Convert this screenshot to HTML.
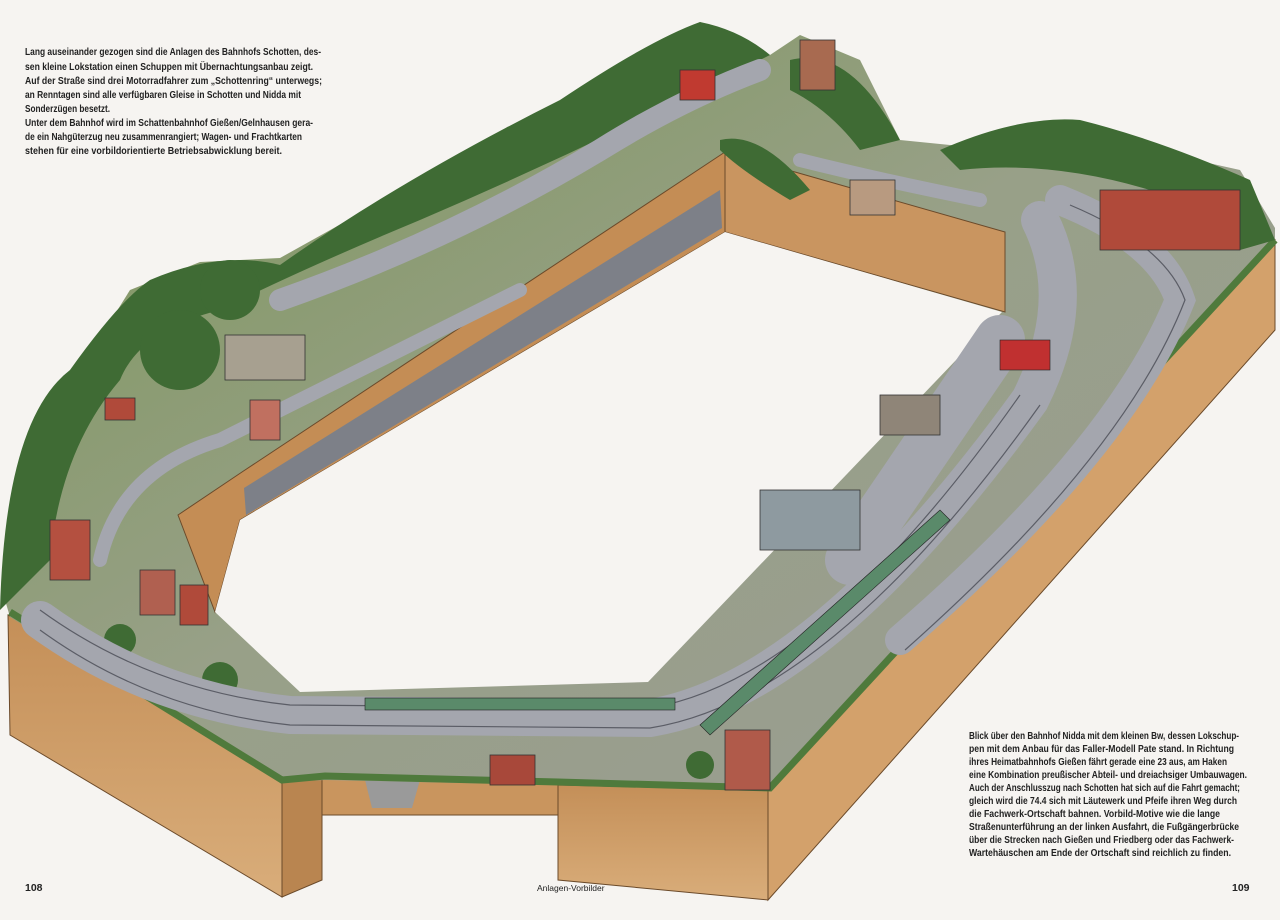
<!DOCTYPE html>
<html><head><meta charset="utf-8"><style>
html,body{margin:0;padding:0;background:#f6f4f1;}
svg{display:block}
text{font-family:"Liberation Sans",sans-serif;font-weight:bold;fill:#222}
</style></head><body>
<svg width="1280" height="920" viewBox="0 0 1280 920" xmlns="http://www.w3.org/2000/svg">
<rect width="1280" height="920" fill="#f6f4f1"/>
<defs>
<linearGradient id="wall" x1="0" y1="0" x2="0" y2="1"><stop offset="0" stop-color="#c48f58"/><stop offset="1" stop-color="#d9ad7a"/></linearGradient>
<linearGradient id="top" x1="0" y1="0" x2="1" y2="1"><stop offset="0" stop-color="#7a9656"/><stop offset="0.5" stop-color="#98a088"/><stop offset="1" stop-color="#9a9c94"/></linearGradient>
</defs>
<polygon points="8,615 282,782 282,897 10,735" fill="url(#wall)" stroke="#6b4a2a" stroke-width="1"/>
<polygon points="282,782 322,778 322,880 282,897" fill="#b98550" stroke="#6b4a2a" stroke-width="1"/>
<polygon points="322,778 558,782 558,815 322,815" fill="#c9955e" stroke="#6b4a2a" stroke-width="1"/>
<polygon points="365,780 420,780 412,808 372,808" fill="#9a9a9a"/>
<polygon points="558,785 768,790 768,900 558,880" fill="url(#wall)" stroke="#6b4a2a" stroke-width="1"/>
<polygon points="768,790 1275,240 1275,330 768,900" fill="#d3a16b" stroke="#6b4a2a" stroke-width="1"/>
<polygon points="5,600 18,470 80,370 130,290 200,262 280,258 420,180 560,108 700,22 770,55 800,35 860,60 900,140 1000,150 1080,125 1150,150 1240,170 1275,228 1275,242 770,790 558,785 325,780 282,782 10,617" fill="url(#top)"/>
<!-- edge greenery -->
<path d="M10,612 L282,780 L325,776 L558,782 L770,788 L1275,240" fill="none" stroke="#4f7a3c" stroke-width="7"/>
<polygon points="725,152 1005,232 1005,312 725,232" fill="#c99560" stroke="#6b4a2a"/>
<polygon points="178,515 242,472 725,152 725,232 240,520 215,612" fill="#c48d55" stroke="#6b4a2a"/>
<polygon points="244,488 720,190 722,228 246,515" fill="#7d8088"/>
<polygon points="240,520 725,232 1002,312 648,682 300,692 215,612" fill="#f6f4f1"/>
<g fill="#3f6b34">
<path d="M0,610 Q5,420 70,370 Q120,300 150,280 Q220,250 280,265 Q400,180 560,100 Q650,40 700,22 Q740,30 770,55 L700,90 Q560,160 420,220 Q300,270 220,310 Q140,330 120,380 Q60,450 50,560 Z"/>
<path d="M790,60 Q850,45 900,140 L860,150 Q830,110 790,90Z"/>
<path d="M720,140 Q760,130 810,190 L790,200 Q740,170 720,150Z"/>
<path d="M940,150 Q1020,115 1080,120 Q1160,140 1250,180 L1275,240 L1240,250 Q1200,210 1150,190 Q1050,160 960,170Z"/>
<circle cx="180" cy="350" r="40"/><circle cx="230" cy="290" r="30"/>
<circle cx="220" cy="680" r="18"/><circle cx="120" cy="640" r="16"/><circle cx="700" cy="765" r="14"/>
</g>
<g fill="none" stroke="#a4a6ae" stroke-linecap="round">
<path d="M40,620 Q150,700 290,715 L650,718 Q820,690 1030,400 Q1080,300 1040,220" stroke-width="38"/>
<path d="M280,300 Q450,240 600,150 Q680,100 760,70" stroke-width="22"/>
<path d="M100,560 Q120,470 220,440 Q380,360 520,290" stroke-width="14"/>
<path d="M1060,200 Q1160,240 1180,300 Q1120,450 900,640" stroke-width="30"/>
<path d="M800,160 Q880,180 980,200" stroke-width="14"/>
<path d="M850,560 L1000,340" stroke-width="50"/>
</g>
<g fill="none" stroke="#5b5d66" stroke-width="1.2">
<path d="M40,610 Q150,690 290,705 L650,708 Q820,680 1020,395"/>
<path d="M40,630 Q150,710 290,725 L650,728 Q830,700 1040,405"/>
<path d="M1070,205 Q1165,245 1185,300 Q1125,455 905,650"/>
</g>
<g stroke="#333" stroke-width="0.8">
<rect x="760" y="490" width="100" height="60" fill="#8e9aa0"/>
<rect x="880" y="395" width="60" height="40" fill="#8f8578"/>
<rect x="1100" y="190" width="140" height="60" fill="#b04a3a"/>
<rect x="850" y="180" width="45" height="35" fill="#b89a80"/>
<rect x="225" y="335" width="80" height="45" fill="#a7a090"/>
<rect x="725" y="730" width="45" height="60" fill="#b05a4a"/>
<rect x="490" y="755" width="45" height="30" fill="#a8483a"/>
<rect x="50" y="520" width="40" height="60" fill="#b45040"/>
<rect x="140" y="570" width="35" height="45" fill="#b06050"/>
<rect x="250" y="400" width="30" height="40" fill="#c07060"/>
<rect x="680" y="70" width="35" height="30" fill="#c03a30"/>
<rect x="800" y="40" width="35" height="50" fill="#a86a50"/>
<rect x="105" y="398" width="30" height="22" fill="#b04a3a"/>
<rect x="180" y="585" width="28" height="40" fill="#b04a3a"/>
</g>
<g fill="#5a8a6a" stroke="#222" stroke-width="0.6">
<rect x="365" y="698" width="310" height="12"/>
<rect x="1000" y="340" width="50" height="30" fill="#c03030"/>
<path d="M700,725 L940,510 L950,520 L710,735Z"/>
</g>
<g font-size="10.5">
<text x="25" y="55" textLength="296" lengthAdjust="spacingAndGlyphs">Lang auseinander gezogen sind die Anlagen des Bahnhofs Schotten, des-</text>
<text x="25" y="70" textLength="288" lengthAdjust="spacingAndGlyphs">sen kleine Lokstation einen Schuppen mit Übernachtungsanbau zeigt.</text>
<text x="25" y="84" textLength="297" lengthAdjust="spacingAndGlyphs">Auf der Straße sind drei Motorradfahrer zum „Schottenring“ unterwegs;</text>
<text x="25" y="98" textLength="276" lengthAdjust="spacingAndGlyphs">an Renntagen sind alle verfügbaren Gleise in Schotten und Nidda mit</text>
<text x="25" y="112" textLength="85" lengthAdjust="spacingAndGlyphs">Sonderzügen besetzt.</text>
<text x="25" y="126" textLength="288" lengthAdjust="spacingAndGlyphs">Unter dem Bahnhof wird im Schattenbahnhof Gießen/Gelnhausen gera-</text>
<text x="25" y="140" textLength="277" lengthAdjust="spacingAndGlyphs">de ein Nahgüterzug neu zusammenrangiert; Wagen- und Frachtkarten</text>
<text x="25" y="154" textLength="257" lengthAdjust="spacingAndGlyphs">stehen für eine vorbildorientierte Betriebsabwicklung bereit.</text>
</g>
<g font-size="10.5">
<text x="969" y="739" textLength="270" lengthAdjust="spacingAndGlyphs">Blick über den Bahnhof Nidda mit dem kleinen Bw, dessen Lokschup-</text>
<text x="969" y="752" textLength="265" lengthAdjust="spacingAndGlyphs">pen mit dem Anbau für das Faller-Modell Pate stand. In Richtung</text>
<text x="969" y="765" textLength="258" lengthAdjust="spacingAndGlyphs">ihres Heimatbahnhofs Gießen fährt gerade eine 23 aus, am Haken</text>
<text x="969" y="778" textLength="278" lengthAdjust="spacingAndGlyphs">eine Kombination preußischer Abteil- und dreiachsiger Umbauwagen.</text>
<text x="969" y="791" textLength="271" lengthAdjust="spacingAndGlyphs">Auch der Anschlusszug nach Schotten hat sich auf die Fahrt gemacht;</text>
<text x="969" y="804" textLength="268" lengthAdjust="spacingAndGlyphs">gleich wird die 74.4 sich mit Läutewerk und Pfeife ihren Weg durch</text>
<text x="969" y="817" textLength="251" lengthAdjust="spacingAndGlyphs">die Fachwerk-Ortschaft bahnen. Vorbild-Motive wie die lange</text>
<text x="969" y="830" textLength="270" lengthAdjust="spacingAndGlyphs">Straßenunterführung an der linken Ausfahrt, die Fußgängerbrücke</text>
<text x="969" y="843" textLength="265" lengthAdjust="spacingAndGlyphs">über die Strecken nach Gießen und Friedberg oder das Fachwerk-</text>
<text x="969" y="856" textLength="262" lengthAdjust="spacingAndGlyphs">Wartehäuschen am Ende der Ortschaft sind reichlich zu finden.</text>
</g>
<text x="25" y="891" font-size="10.5">108</text>
<text x="537" y="891" font-size="8.5" style="font-weight:normal">Anlagen-Vorbilder</text>
<text x="1232" y="891" font-size="10.5">109</text>
</svg>
</body></html>
